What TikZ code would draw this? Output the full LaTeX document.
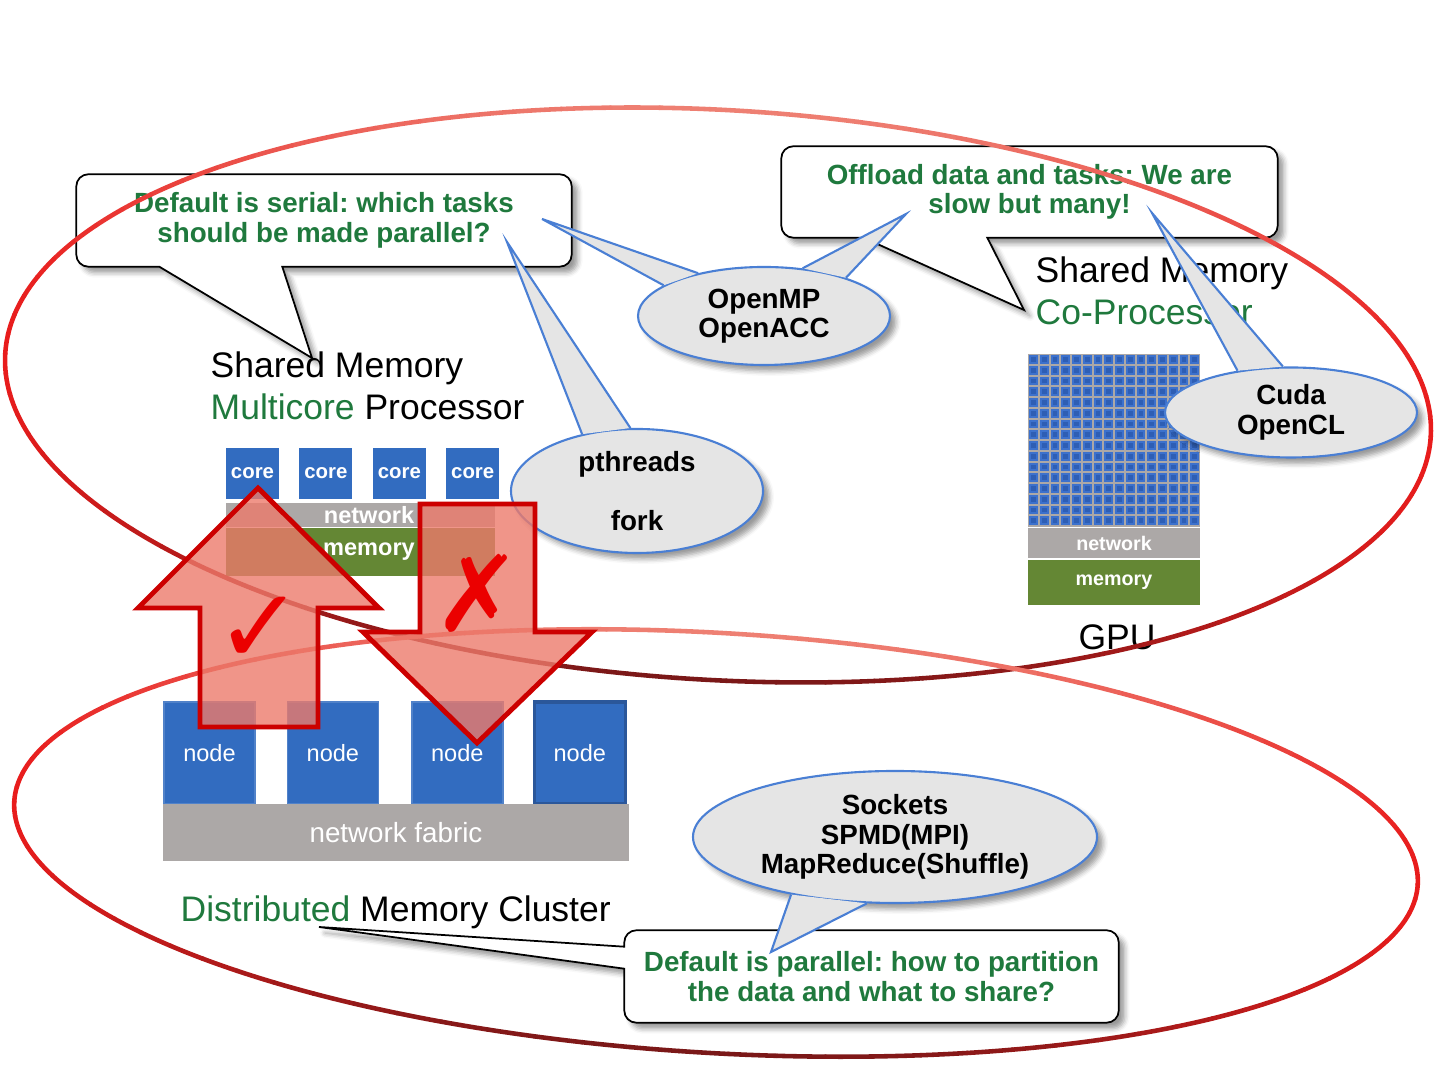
\documentclass[tikz,border=0pt]{standalone}
\usepackage{fontspec}
\setmainfont{Liberation Sans}
\newfontfamily\symbfont{DejaVu Sans}
\usepackage{xcolor}
\usepackage{tikz}
\usetikzlibrary{shapes.geometric, positioning, shadows.blur, calc}
\frenchspacing

\definecolor{callgreen}{RGB}{31,121,61}
\definecolor{coreblue}{RGB}{50,108,192}
\definecolor{coreedge}{RGB}{43,87,154}
\definecolor{netgray}{RGB}{172,168,167}
\definecolor{memgreen}{RGB}{100,135,52}
\definecolor{cellblue}{RGB}{60,113,205}
\definecolor{cellinner}{RGB}{46,94,180}
\definecolor{bubblefill}{RGB}{229,229,229}
\definecolor{bubbleline}{RGB}{74,127,212}
\definecolor{arrowline}{RGB}{204,0,0}
\definecolor{arrowfill}{RGB}{236,122,107}
\definecolor{markred}{RGB}{235,0,0}
\definecolor{ringtop}{RGB}{238,128,115}
\definecolor{ringmid}{RGB}{232,28,28}
\definecolor{ringbot}{RGB}{122,24,24}

\tikzset{
    core/.style={
        rectangle,
        fill=coreblue,
        minimum width=0.53cm,
        minimum height=0.51cm,
        inner sep=0pt,
        text=white,
        font=\fontsize{5.8}{6}\selectfont\bfseries
    },
    band/.style={
        rectangle,
        inner sep=0pt,
        text=white,
        font=\fontsize{6.7}{7}\selectfont\bfseries
    },
    gpuband/.style={
        band,
        minimum width=1.72cm,
        font=\fontsize{5.6}{6}\selectfont\bfseries
    },
    cluster/.style={
        rectangle,
        fill=coreblue,
        draw=coreblue!85!white,
        line width=0.4pt,
        minimum width=0.91cm,
        minimum height=1.02cm,
        inner sep=0pt,
        text=white,
        font=\fontsize{6.7}{7}\selectfont
    },
    bigtext/.style={
        inner sep=0pt,
        font=\fontsize{10.1}{11.95}\selectfont
    },
    callbox/.style={
        inner sep=0pt,
        minimum width=4.94cm,
        minimum height=0.91cm
    },
    calltext/.style={
        inner sep=0pt,
        align=center,
        text=callgreen,
        font=\fontsize{7.9}{8.4}\selectfont\bfseries
    },
    callout/.style={
        draw=black,
        line width=0.5pt,
        fill=white,
        blur shadow={shadow xshift=0.06cm, shadow yshift=-0.06cm, shadow blur radius=0.05cm, shadow opacity=40}
    },
    bubble/.style={
        ellipse,
        draw=bubbleline,
        line width=0.6pt,
        fill=bubblefill,
        inner sep=0pt,
        align=center,
        font=\fontsize{7.9}{8.4}\selectfont\bfseries,
        blur shadow={shadow xshift=0.06cm, shadow yshift=-0.06cm, shadow blur radius=0.05cm, shadow opacity=40}
    },
    bubbletail/.style={
        fill=bubblefill,
        draw=bubbleline,
        line width=0.6pt,
        line join=miter
    },
    bigarrow/.style={
        draw=arrowline,
        line width=1.4pt,
        fill=arrowfill,
        fill opacity=0.8,
        line join=miter
    },
    tickmark/.style={
        inner sep=0pt,
        text=markred,
        font=\symbfont\fontsize{30}{30}\selectfont
    },
    ring/.style={
        line width=1.3pt,
        line cap=round
    }
}

\begin{document}
\begin{tikzpicture}
\useasboundingbox (0,0) rectangle (14.4,10.8);

% Multicore processor (left)
\node[core] (core1) at (2.525,6.065) {core};
\node[core, right=0.19cm of core1] (core2) {core};
\node[core, right=0.19cm of core2] (core3) {core};
\node[core, right=0.19cm of core3] (core4) {core};
\node[band, fill=netgray, minimum width=2.69cm, minimum height=0.24cm] (mcnet) at (3.605,5.65) {\hspace*{0.17cm}network};
\node[band, fill=memgreen, minimum width=2.69cm, minimum height=0.48cm] (mcmem) at (3.605,5.28) {\hspace*{0.17cm}memory};
\node[bigtext, align=left, anchor=west] (mclabel) at (2.10,6.94) {Shared Memory\\\textcolor{callgreen}{Multicore} Processor};

% GPU co-processor (right)
\node[rectangle, fill=netgray, minimum width=1.72cm, minimum height=1.73cm, inner sep=0pt] (gpugrid) at (11.14,6.395) {};
\foreach \i in {0,...,15}{
    \foreach \j in {0,...,15}{
        \fill[cellblue] (10.291+\i*0.1075,7.249-\j*0.1075) rectangle ++(0.087,-0.087);
        \fill[cellinner] (10.311+\i*0.1075,7.229-\j*0.1075) rectangle ++(0.047,-0.047);
    }
}
\node[gpuband, fill=netgray, minimum height=0.30cm, below=0pt of gpugrid] (gpunet) {network};
\node[gpuband, fill=memgreen, minimum height=0.45cm, below=0pt of gpunet] (gpumem) {memory};
\node[bigtext, anchor=base] (gpulabel) at (11.17,4.30) {GPU};
\node[bigtext, align=left, anchor=west] (cplabel) at (10.35,7.89) {Shared Memory\\\textcolor{callgreen}{Co-Processor}};

% Distributed memory cluster (bottom)
\node[cluster] (node1) at (2.095,3.27) {node};
\node[cluster, right=0.31cm of node1] (node2) {node};
\node[cluster, right=0.32cm of node2] (node3) {node};
\node[cluster, right=0.29cm of node3, draw=coreedge, line width=1pt] (node4) {node};
\node[rectangle, fill=netgray, minimum width=4.66cm, minimum height=0.57cm, inner sep=0pt, text=white, font=\fontsize{7.9}{8.4}\selectfont] (fabric) at (3.96,2.475) {network fabric};
\node[bigtext, anchor=base west] (distlabel) at (1.80,1.58) {\textcolor{callgreen}{Distributed} Memory Cluster};

% White callouts
\node[callbox] (serial) at (3.24,8.595) {};
\node[callbox, minimum width=4.95cm, minimum height=0.90cm] (offload) at (10.295,8.88) {};
\node[callbox, minimum width=4.93cm] (parallel) at (8.715,1.035) {};
\coordinate (serialtip) at (3.12,7.22);
\coordinate (offloadtip) at (10.24,7.70);
\coordinate (paralleltip) at (3.19,1.53);

\path[callout] ([xshift=2.06cm]serial.south west) [rounded corners=0.12cm] -- (serial.south east) -- (serial.north east) -- (serial.north west)
    -- (serial.south west) [sharp corners] -- ([xshift=0.83cm]serial.south west) -- (serialtip) -- cycle;
\path[callout] ([xshift=2.06cm]offload.south west) [rounded corners=0.12cm] -- (offload.south east) -- (offload.north east) -- (offload.north west)
    -- (offload.south west) [sharp corners] -- ([xshift=0.82cm]offload.south west) -- (offloadtip) -- cycle;
\path[callout] ([yshift=0.76cm]parallel.south west) [rounded corners=0.12cm] -- (parallel.north west) -- (parallel.north east) -- (parallel.south east)
    -- (parallel.south west) [sharp corners] -- ([yshift=0.54cm]parallel.south west) -- (paralleltip) -- cycle;

\node[calltext] (serialtext) at (serial) {Default is serial: which tasks\\should be made parallel?};
\node[calltext] (offloadtext) at (offload) {Offload data and tasks: We are\\slow but many!};
\node[calltext] (paralleltext) at (parallel) {Default is parallel: how to partition\\the data and what to share?};

% Gray bubbles
\node[bubble, minimum width=2.52cm, minimum height=0.98cm] (openmp) at (7.64,7.64) {OpenMP\\OpenACC};
\node[bubble, minimum width=2.52cm, minimum height=1.24cm] (pthreads) at (6.37,5.89) {pthreads\\[8.4pt]fork};
\node[bubble, minimum width=2.52cm, minimum height=0.90cm] (cuda) at (12.91,6.675) {Cuda\\OpenCL};
\node[bubble, minimum width=4.04cm, minimum height=1.32cm] (sockets) at (8.95,2.43) {Sockets\\SPMD(MPI)\\MapReduce(Shuffle)};
\coordinate (openmptipa) at (5.42,8.61);
\coordinate (openmptipb) at (9.06,8.66);
\coordinate (pthreadstip) at (5.07,8.38);
\coordinate (cudatip) at (11.52,8.67);
\coordinate (socketstip) at (7.71,1.28);

\filldraw[bubbletail] (openmp.147) -- (openmptipa) -- (openmp.163);
\filldraw[bubbletail] (openmp.51) -- (openmptipb) -- (openmp.25);
\filldraw[bubbletail] (pthreads.134) -- (pthreadstip) -- (pthreads.96);
\filldraw[bubbletail] (cuda.142) -- (cudatip) -- (cuda.100);
\filldraw[bubbletail] (sockets.209) -- (socketstip) -- (sockets.247);

% Red rings
\foreach \cx/\cy/\ra/\rb/\rot in {7.18/6.85/7.14/2.85/-3.3, 7.16/2.37/7.03/2.10/-3.4}{
    \begin{scope}[shift={(\cx,\cy)}, rotate=\rot]
    \foreach \a in {0,4,...,356}{
        \pgfmathsetmacro\s{sin(\a+2)}
        \pgfmathtruncatemacro\p{100*\s*\s}
        \ifdim\s pt>0pt \colorlet{segc}{ringtop!\p!ringmid}\else\colorlet{segc}{ringbot!\p!ringmid}\fi
        \draw[ring, segc] (\a:\ra cm and \rb cm) arc[start angle=\a, delta angle=4, x radius=\ra cm, y radius=\rb cm];
    }
    \end{scope}
}

% Big arrows
\path[bigarrow] (2.58,5.92) -- (3.79,4.72) -- (3.18,4.72) -- (3.18,3.53) -- (2.00,3.53) -- (2.00,4.72) -- (1.38,4.72) -- cycle;
\path[bigarrow] (4.20,5.76) -- (5.35,5.76) -- (5.35,4.48) -- (5.92,4.48) -- (4.77,3.37) -- (3.63,4.48) -- (4.20,4.48) -- cycle;
\node[tickmark] (tick) at (2.60,4.50) {✓};
\node[tickmark] (cross) at (4.775,4.87) {✗};

\end{tikzpicture}
\end{document}
